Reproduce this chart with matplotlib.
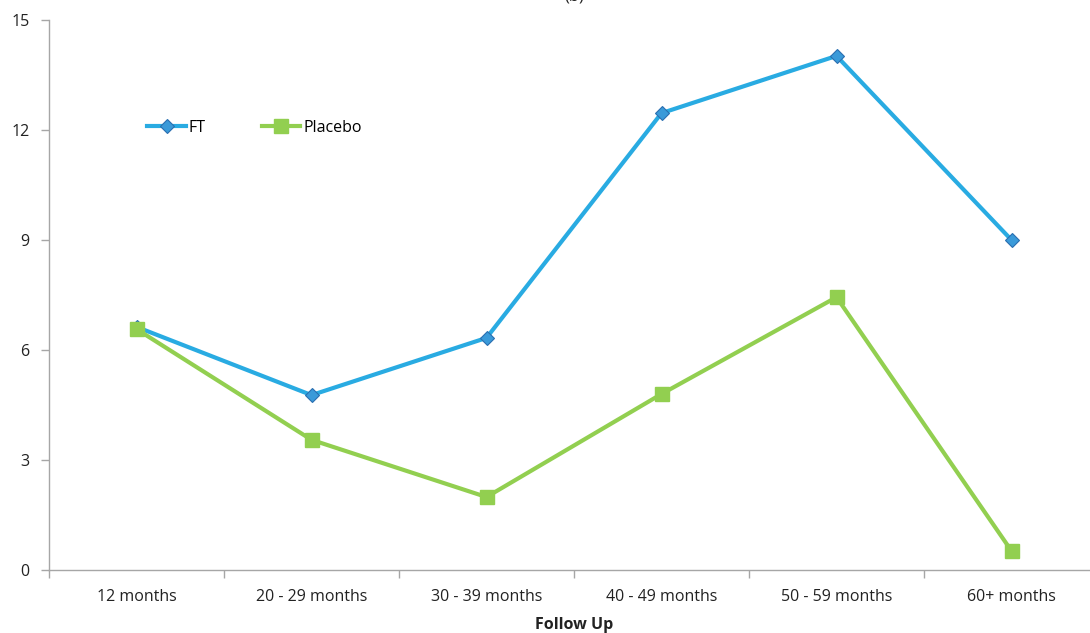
import numpy as np
import matplotlib.pyplot as plt

categories = ['12 months', '20 - 29 months', '30 - 39 months',
              '40 - 49 months', '50 - 59 months', '60+ months']
ft = [6.63, 4.77, 6.33, 12.46, 14.02, 9.0]
placebo = [6.57, 3.55, 1.99, 4.80, 7.44, 0.52]
y_ticks = [0, 3, 6, 9, 12, 15]

plt.rcParams['font.family'] = ['Open Sans', 'DejaVu Sans']

fig = plt.figure(figsize=(10.9, 6.33), dpi=100)
# plot area runs a little past the right edge of the figure
ax = fig.add_axes([49 / 1090, 63 / 633, 1050 / 1090, 550 / 633])

x = np.arange(len(categories))
ax.plot(x, ft, color='#29ABE2', lw=3, marker='D', ms=7,
        mfc='#3A9AD9', mec='#2A6FB0', mew=0.8, label='FT')
ax.plot(x, placebo, color='#92CF50', lw=3, marker='s', ms=10,
        mfc='#92CF50', mec='#92CF50', label='Placebo')

ax.set_xlim(-0.5, len(categories) - 0.5)
ax.set_ylim(0, 15)
ax.set_yticks(y_ticks)
ax.set_xticks(x)
ax.set_xticklabels(categories)
ax.set_xticks(np.arange(-0.5, len(categories)), minor=True)
ax.tick_params(axis='x', which='major', length=0, pad=14, labelsize=11.5, colors='#222222')
ax.tick_params(axis='x', which='minor', length=6, width=1, color='#A6A6A6')
ax.tick_params(axis='y', length=6, width=1, color='#A6A6A6', pad=8,
               labelsize=11.5, labelcolor='#222222')

for side in ['top', 'right']:
    ax.spines[side].set_visible(False)
for side in ['left', 'bottom']:
    ax.spines[side].set_color('#A6A6A6')
    ax.spines[side].set_linewidth(1)

ax.set_xlabel('Follow Up', fontsize=11.5, fontweight='bold', color='#222222', labelpad=8)
# panel label sits just above the top edge
fig.text(574 / 1090, 1.006, '(b)', ha='center', va='center', fontsize=12, color='#222222')

ax.legend(loc='upper left', bbox_to_anchor=(0.08, 0.845), ncol=2, frameon=False,
          fontsize=11.5, handlelength=2.4, columnspacing=3.5, handletextpad=0.2)

fig.savefig('out.png', dpi=100)
